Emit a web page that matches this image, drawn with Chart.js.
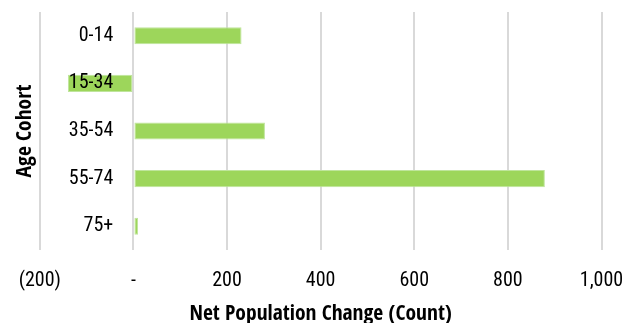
<!DOCTYPE html>
<html>
<head>
<meta charset="utf-8">
<script src="https://cdn.jsdelivr.net/npm/chart.js@4"></script>
<style>
  html, body { margin: 0; padding: 0; background: #fff; }
  #wrap { width: 636px; height: 323px; }
</style>
</head>
<body>
<div id="wrap"><canvas id="c" width="636" height="323"></canvas></div>
<script>
const categories = ['0-14', '15-34', '35-54', '55-74', '75+'];
const netChange = [231, -140, 281, 879, 10];
const xTickValues = [-200, 0, 200, 400, 600, 800, 1000];
const xTickLabels = ['(200)', '-', '200', '400', '600', '800', '1,000'];

const FONT = "'Roboto Condensed', 'DejaVu Sans Condensed', sans-serif";
const BOLD = "'Open Sans Condensed', 'Roboto Condensed', sans-serif";

new Chart(document.getElementById('c'), {
  type: 'bar',
  data: {
    labels: categories,
    datasets: [{
      data: netChange,
      backgroundColor: '#9DD65B',
      borderColor: '#BFE59C',
      borderWidth: 1,
      borderSkipped: false,
      barPercentage: 0.36,
      categoryPercentage: 1.0
    }]
  },
  options: {
    indexAxis: 'y',
    responsive: false,
    animation: false,
    layout: { padding: { left: 3, right: 34.5, top: 12, bottom: 0 } },
    plugins: { legend: { display: false }, tooltip: { enabled: false } },
    scales: {
      x: {
        type: 'linear',
        min: -200, max: 1000,
        afterBuildTicks: (s) => { s.ticks = xTickValues.map(v => ({ value: v })); },
        afterFit: (s) => { s.height = 73; s.paddingLeft = 0; s.paddingRight = 0; },
        grid: { color: '#D9D9D9', lineWidth: 2, drawTicks: false },
        border: { display: false },
        ticks: {
          padding: 19,
          color: '#000',
          font: { family: FONT, size: 20 },
          callback: (v) => { const i = xTickValues.indexOf(v); return i >= 0 ? xTickLabels[i] : ''; }
        },
        title: {
          display: true,
          text: 'Net Population Change (Count)',
          color: '#000',
          font: { family: BOLD, size: 21.5, weight: 'bold' },
          padding: { top: 0, bottom: -4 }
        }
      },
      y: {
        type: 'category',
        position: { x: -43 },
        grid: { display: false, drawTicks: false },
        border: { display: false },
        ticks: {
          z: 1,
          padding: 0,
          color: '#000',
          font: { family: FONT, size: 20 }
        }
      },
      yt: {
        type: 'category',
        position: 'left',
        offset: true,
        labels: categories,
        grid: { display: false, drawTicks: false },
        border: { display: false },
        ticks: { display: false },
        title: {
          display: true,
          text: 'Age Cohort',
          color: '#000',
          font: { family: BOLD, size: 21.5, weight: 'bold' },
          padding: { top: 9, bottom: 2 }
        }
      }
    }
  }
});
</script>
</body>
</html>
